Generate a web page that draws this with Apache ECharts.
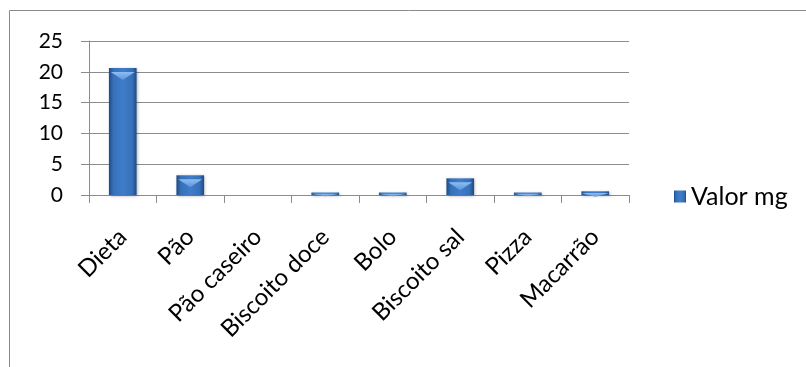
<!DOCTYPE html>
<html>
<head>
<meta charset="utf-8">
<script src="https://cdn.jsdelivr.net/npm/echarts@6/dist/echarts.min.js"></script>
<style>
  html, body { margin: 0; padding: 0; background: #fff; }
  #chart { width: 806px; height: 367px; }
</style>
</head>
<body>
<div id="chart"></div>
<script>
// Categories and values (mg) per food item
const categories = ['Dieta', 'Pão', 'Pão caseiro', 'Biscoito doce', 'Bolo', 'Biscoito sal', 'Pizza', 'Macarrão'];
const valorMg = [20.6, 3.2, 0, 0.4, 0.4, 2.7, 0.4, 0.6];
const seriesName = 'Valor mg';
const yTicks = { min: 0, max: 25, interval: 5 };

const chart = echarts.init(document.getElementById('chart'));
const font = 'Lato, "Open Sans", sans-serif';
const gridGray = '#8c8c8c';

// Horizontal bevel: darker edges, lighter middle
const barFill = new echarts.graphic.LinearGradient(0, 0, 1, 0, [
  { offset: 0, color: '#1d4a86' },
  { offset: 0.16, color: '#3670b8' },
  { offset: 0.5, color: '#3f7ccb' },
  { offset: 0.84, color: '#3670b8' },
  { offset: 1, color: '#1d4a86' }
]);
// Light chevron bevel at the top of each bar
const capFill = new echarts.graphic.LinearGradient(0, 0, 0, 1, [
  { offset: 0, color: '#8dbdf2' },
  { offset: 1, color: '#5a94dc' }
]);

chart.setOption({
  animation: false,
  textStyle: { fontFamily: font },
  graphic: [{
    type: 'rect',
    shape: { x: 9.5, y: 10.5, width: 820, height: 400 },
    style: { fill: 'none', stroke: '#8a8a8a', lineWidth: 1 },
    silent: true
  }],
  grid: { left: 89, right: 177, top: 41, bottom: 172 },
  legend: {
    left: 669, top: 179,
    icon: 'rect', itemWidth: 12, itemHeight: 12, itemGap: 5,
    textStyle: { fontSize: 25, color: '#000', fontFamily: font },
    data: [{ name: seriesName, itemStyle: { color: barFill } }]
  },
  xAxis: {
    type: 'category',
    data: categories,
    axisLine: { lineStyle: { color: gridGray, width: 1 } },
    axisTick: { show: true, length: 8, lineStyle: { color: gridGray } },
    axisLabel: { rotate: 45, fontSize: 24, color: '#000', margin: 38, interval: 0, fontFamily: font }
  },
  yAxis: {
    type: 'value',
    min: yTicks.min, max: yTicks.max, interval: yTicks.interval,
    axisLine: { show: true, lineStyle: { color: gridGray, width: 1 } },
    axisTick: { show: true, length: 8, lineStyle: { color: gridGray } },
    axisLabel: { fontSize: 21, color: '#000', margin: 26, fontFamily: font },
    splitLine: { lineStyle: { color: gridGray, width: 1 } }
  },
  series: [{
    name: seriesName,
    type: 'bar',
    data: valorMg,
    barWidth: '41%',
    barGap: '-100%',
    itemStyle: {
      color: barFill,
      shadowColor: 'rgba(0,0,0,0.3)',
      shadowBlur: 3,
      shadowOffsetX: 1,
      shadowOffsetY: 1
    }
  }, {
    name: seriesName + ' bevel',
    type: 'pictorialBar',
    data: valorMg,
    barWidth: '41%',
    barGap: '-100%',
    symbol: 'path://M0,0 L20,0 L10,8 Z',
    symbolPosition: 'end',
    symbolOffset: [0, '50%'],
    symbolSize: function (v) { return v >= 1 ? ['86%', 8] : ['100%', Math.max(v * 6, 0)]; },
    itemStyle: { color: capFill },
    silent: true,
    z: 3
  }]
});
</script>
</body>
</html>
